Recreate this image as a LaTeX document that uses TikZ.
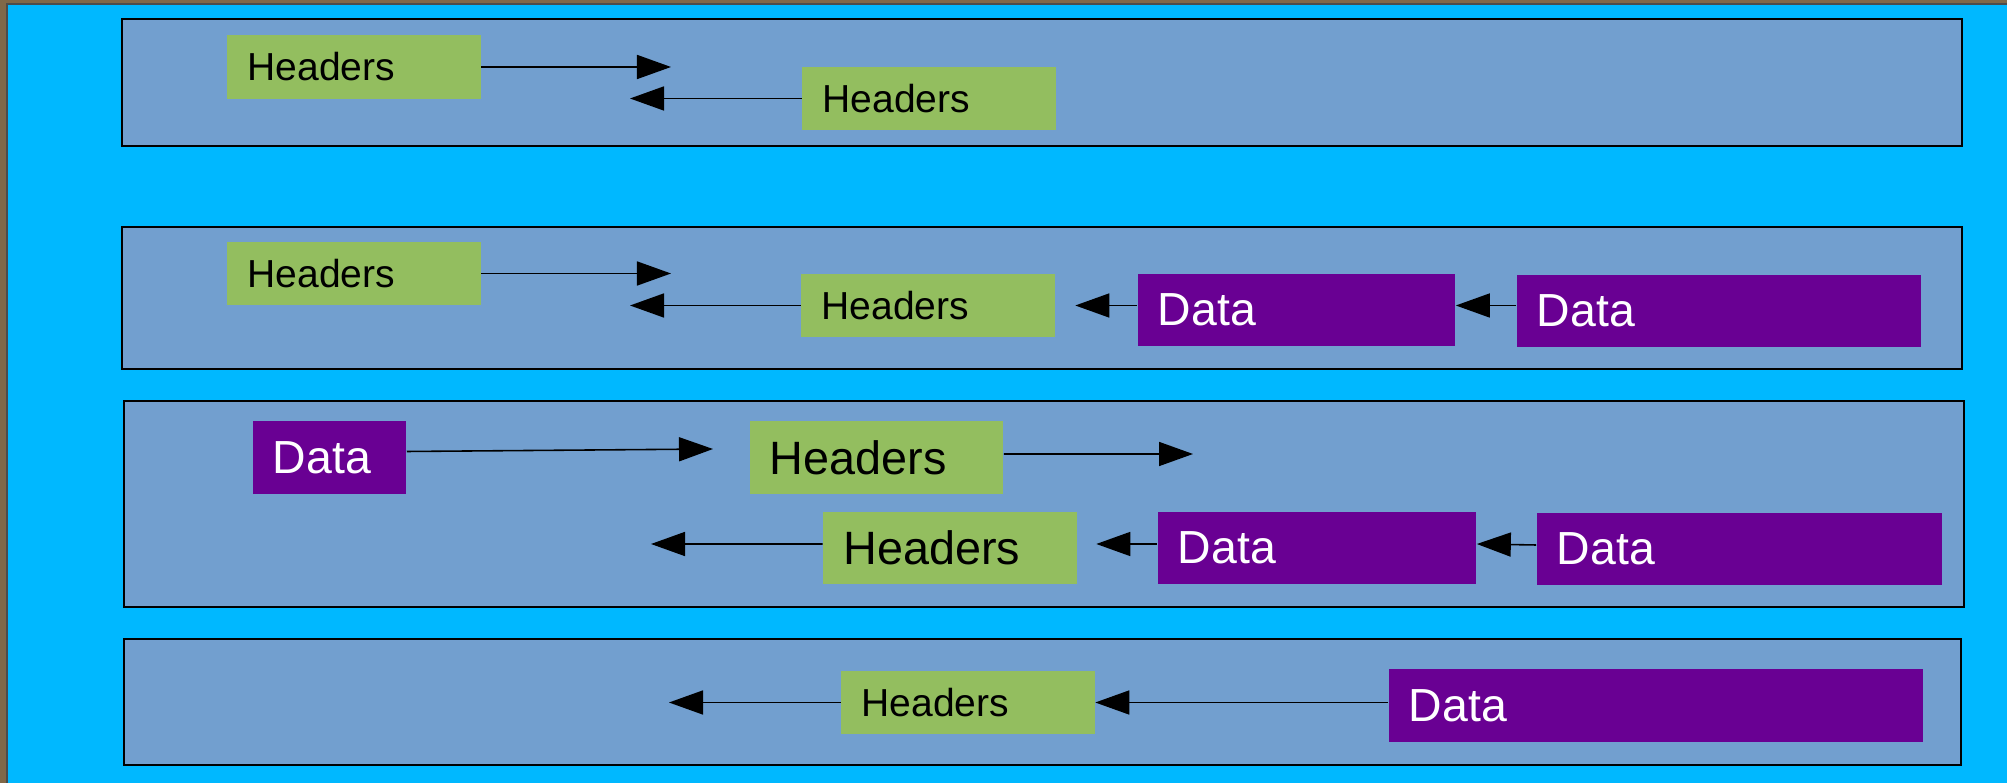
\documentclass[tikz,border=0pt]{standalone}
\usepackage{fontspec}
\setmainfont{Liberation Sans}
\usetikzlibrary{positioning, arrows.meta}

\definecolor{skyback}{RGB}{0,184,255}
\definecolor{panelblue}{RGB}{114,159,207}
\definecolor{hdrgreen}{RGB}{147,190,95}
\definecolor{datapurple}{RGB}{105,0,147}
\definecolor{woodbrown}{RGB}{128,104,72}

\tikzset{
  panel/.style={draw=black, fill=panelblue, line width=0.45pt},
  hdr/.style={fill=hdrgreen, inner xsep=0.2cm, inner ysep=0pt, text width=2.13cm,
    minimum height=0.63cm, align=left, font=\fontsize{11.1}{13}\selectfont},
  hdrbig/.style={hdr, minimum height=0.72cm, font=\fontsize{13.3}{15}\selectfont},
  data/.style={fill=datapurple, text=white, inner xsep=0.2cm, inner ysep=0pt,
    minimum height=0.72cm, align=left, font=\fontsize{13.2}{15}\selectfont, text width=#1},
  link/.style={-{Triangle[length=0.34cm,width=0.24cm]}, line width=0.45pt, black},
}

\begin{document}
\begin{tikzpicture}[x=0.01cm, y=-0.01cm]
  \useasboundingbox (0,0) rectangle (2007,783);
  % Background
  \fill[woodbrown] (0,0) rectangle (2007,783);
  \fill[skyback] (7,4) rectangle (2007,783);
  \draw[black!70, line width=0.6pt] (7,783) -- (7,4) -- (2007,4);

  % Panels
  \draw[panel] (122,19) rectangle (1962,146);
  \draw[panel] (122,227) rectangle (1962,369);
  \draw[panel] (124,401) rectangle (1964,607);
  \draw[panel] (124,639) rectangle (1961,765);

  % Row 1
  \node[hdr] (hdrA) at (354,67) {Headers};
  \node[hdr] (hdrB) at (929,98.5) {Headers};
  \coordinate (tipA) at (671,67);
  \coordinate (tipB) at (630,98.5);
  \draw[link] (hdrA) -- (tipA);
  \draw[link] (hdrB) -- (tipB);

  % Row 2
  \node[hdr] (hdrC) at (354,273.5) {Headers};
  \node[hdr] (hdrD) at (928,305.5) {Headers};
  \node[data=2.77cm] (dataA) at (1296.5,310) {Data};
  \node[data=3.64cm] (dataB) at (1719,311) {Data};
  \coordinate (tipC) at (671,273.5);
  \coordinate (tipD) at (630,305.5);
  \draw[link] (hdrC) -- (tipC);
  \draw[link] (hdrD) -- (tipD);
  \draw[link] (dataA.west |- hdrD) -- ([xshift=0.2cm]hdrD.east);
  \draw[link] (dataB.west |- hdrD) -- (dataA.east |- hdrD);

  % Row 3
  \node[data=1.13cm] (dataC) at (329.5,457.5) {Data};
  \node[hdrbig] (hdrE) at (876.5,457.5) {Headers};
  \node[hdrbig] (hdrF) at (950,548) {Headers};
  \node[data=2.78cm] (dataD) at (1317,548) {Data};
  \node[data=3.65cm] (dataE) at (1739.5,549) {Data};
  \coordinate (tipE) at (713,449);
  \coordinate (tipF) at (1193,454);
  \coordinate (tipG) at (651,544);
  \draw[link] ([yshift=0.06cm]dataC.east) -- (tipE);
  \draw[link] ([yshift=0.035cm]hdrE.east) -- (tipF);
  \draw[link] ([yshift=0.04cm]hdrF.west) -- (tipG);
  \draw[link] ([yshift=0.04cm]dataD.west) -- ([shift={(0.19cm,0.04cm)}]hdrF.east);
  \draw[link] ([yshift=0.04cm]dataE.west) -- ([yshift=0.04cm]dataD.east);

  % Row 4
  \node[hdr] (hdrG) at (968,702.5) {Headers};
  \node[data=4.94cm] (dataF) at (1656,705.5) {Data};
  \coordinate (tipH) at (669,702.5);
  \draw[link] (hdrG) -- (tipH);
  \draw[link] (dataF.west |- hdrG) -- (hdrG.east);
\end{tikzpicture}
\end{document}
